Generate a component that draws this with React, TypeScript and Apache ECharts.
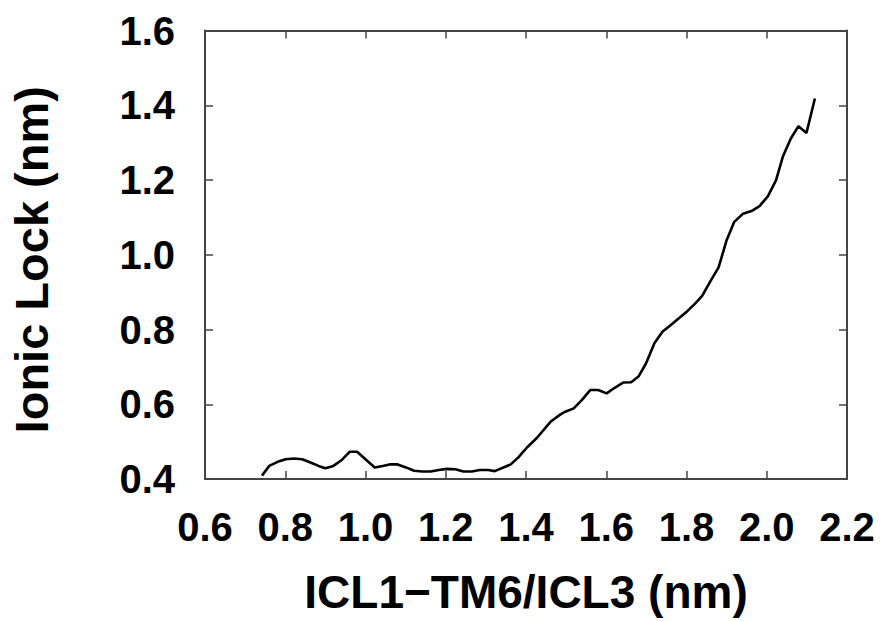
import React, { useEffect, useRef } from "react";
import * as echarts from "echarts";

const icl1Tm6: number[] = [
  0.742, 0.76, 0.781, 0.801, 0.822, 0.842, 0.863, 0.883, 0.9, 0.92, 0.941, 0.961, 0.979,
  1.002, 1.023, 1.043, 1.06, 1.08, 1.101, 1.121, 1.142, 1.162, 1.183, 1.203, 1.224, 1.244,
  1.265, 1.285, 1.306, 1.322, 1.342, 1.362, 1.382, 1.403, 1.428, 1.461, 1.486, 1.498, 1.519,
  1.539, 1.56, 1.58, 1.601, 1.621, 1.642, 1.662, 1.681, 1.699, 1.72, 1.74, 1.761, 1.781,
  1.802, 1.822, 1.839, 1.859, 1.88, 1.9, 1.919, 1.941, 1.962, 1.982, 2.003, 2.023, 2.04,
  2.06, 2.079, 2.099, 2.12,
];
const ionicLock: number[] = [
  0.409, 0.435, 0.446, 0.453, 0.455, 0.453, 0.444, 0.435, 0.429, 0.435, 0.451, 0.473, 0.473,
  0.451, 0.431, 0.435, 0.439, 0.439, 0.431, 0.422, 0.42, 0.42, 0.424, 0.427, 0.426, 0.42,
  0.42, 0.424, 0.424, 0.421, 0.43, 0.439, 0.459, 0.485, 0.511, 0.553, 0.573, 0.58, 0.589,
  0.611, 0.638, 0.638, 0.629, 0.644, 0.658, 0.659, 0.675, 0.709, 0.763, 0.794, 0.812, 0.83,
  0.849, 0.87, 0.89, 0.928, 0.966, 1.039, 1.088, 1.11, 1.117, 1.13, 1.157, 1.199, 1.262,
  1.311, 1.344, 1.326, 1.418,
];
const xRange = { min: 0.6, max: 2.2, interval: 0.2 };
const yRange = { min: 0.4, max: 1.6, interval: 0.2 };
const xTitle = "ICL1\u2212TM6/ICL3 (nm)";
const yTitle = "Ionic Lock (nm)";

const FONT = "'Liberation Sans', Arial, Helvetica, sans-serif";
const AXIS_COLOR = "#444";

export default function App() {
  const ref = useRef<HTMLDivElement>(null);
  useEffect(() => {
    if (!ref.current) return;
    const chart = echarts.init(ref.current, undefined, { renderer: "svg" });
    const lineStyle = { color: AXIS_COLOR, width: 2 };
    const tick = { show: true, inside: true, length: 8, lineStyle: { color: AXIS_COLOR, width: 1.5 } };
    const label = (margin: number) => ({
      show: true,
      margin,
      color: "#000",
      fontFamily: FONT,
      fontWeight: "bold" as const,
      fontSize: 40,
      formatter: (v: number) => v.toFixed(1),
    });
    chart.setOption({
      animation: false,
      backgroundColor: "#fff",
      grid: { left: 196.5, right: 35, top: 30.5, bottom: 142, containLabel: false },
      xAxis: [
        {
          type: "value",
          ...xRange,
          position: "bottom",
          axisLine: { show: true, lineStyle },
          axisTick: tick,
          splitLine: { show: false },
          axisLabel: label(28),
          name: xTitle,
          nameLocation: "middle",
          nameGap: 90,
          nameTextStyle: { color: "#000", fontFamily: FONT, fontWeight: "bold", fontSize: 46 },
        },
        {
          type: "value",
          ...xRange,
          position: "top",
          axisLine: { show: true, onZero: false, lineStyle },
          axisTick: tick,
          splitLine: { show: false },
          axisLabel: { show: false },
        },
      ],
      yAxis: [
        {
          type: "value",
          ...yRange,
          position: "left",
          axisLine: { show: true, lineStyle },
          axisTick: tick,
          splitLine: { show: false },
          axisLabel: label(30),
          name: yTitle,
          nameLocation: "middle",
          nameGap: 150,
          nameTextStyle: {
            color: "#000",
            fontFamily: FONT,
            fontWeight: "bold",
            fontSize: 47,
            padding: [0, 10, 0, 0],
          },
        },
        {
          type: "value",
          ...yRange,
          position: "right",
          axisLine: { show: true, onZero: false, lineStyle },
          axisTick: tick,
          splitLine: { show: false },
          axisLabel: { show: false },
        },
      ],
      series: [
        {
          type: "line",
          data: icl1Tm6.map((x, i) => [x, ionicLock[i]]),
          showSymbol: false,
          lineStyle: { color: "#000", width: 2.6 },
          itemStyle: { color: "#000" },
        },
      ],
    });
    return () => chart.dispose();
  }, []);
  return (
    <div
      ref={ref}
      style={{ position: "fixed", left: 0, top: 0, width: 882, height: 621, background: "#fff" }}
    />
  );
}
